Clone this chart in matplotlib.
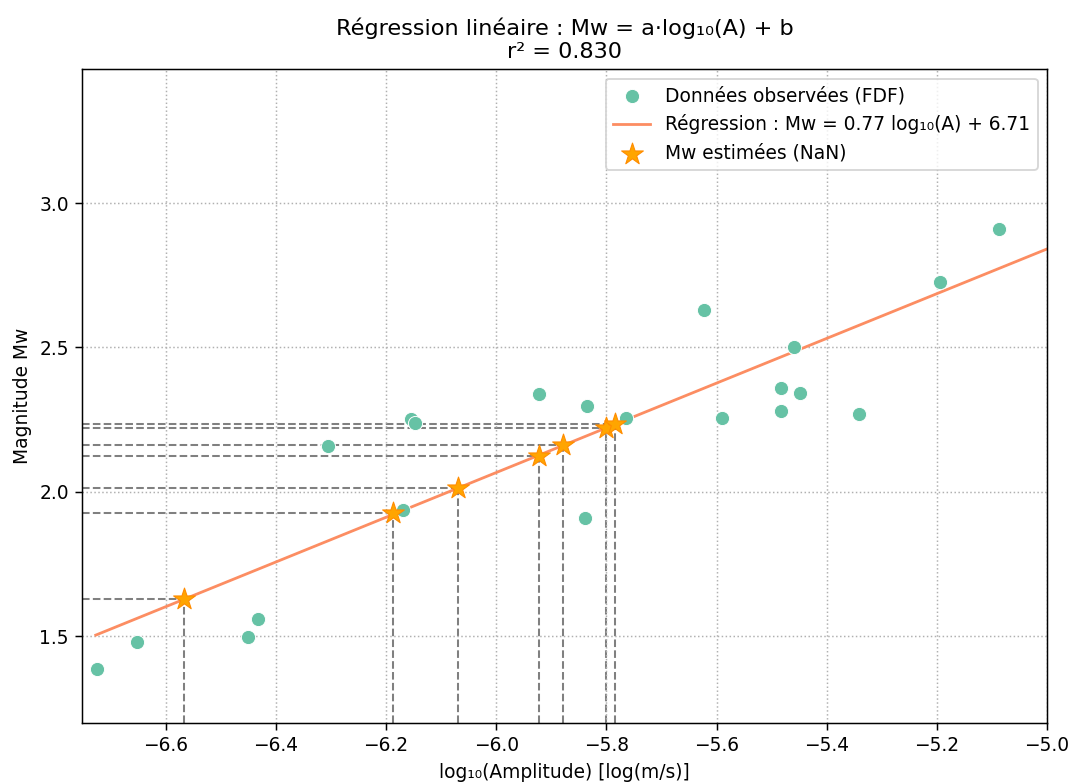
import numpy as np
import matplotlib.pyplot as plt

# données observées (FDF)
log_amp = [-6.725, -6.653, -6.450, -6.432, -6.305, -6.154, -6.147, -6.170,
           -5.922, -5.836, -5.765, -5.839, -5.622, -5.460, -5.195, -5.087,
           -5.590, -5.483, -5.448, -5.483, -5.341]
mw_obs = [1.388, 1.480, 1.499, 1.559, 2.158, 2.254, 2.237, 1.936,
          2.338, 2.299, 2.257, 1.910, 2.629, 2.500, 2.727, 2.909,
          2.256, 2.359, 2.341, 2.279, 2.271]

# coefficients de la régression
a = 0.774
b = 6.711
r2 = 0.830
x_fit = [-6.727, -4.99]

# Mw estimées (NaN)
log_amp_est = [-6.567, -6.187, -6.069, -5.922, -5.879, -5.800, -5.784]
mw_est = [1.630, 1.927, 2.015, 2.125, 2.164, 2.222, 2.236]

xmin, xmax = -6.752, -5.0
ymin, ymax = 1.199, 3.463

dpi = 134
fig, ax = plt.subplots(figsize=(1070 / dpi, 782 / dpi), dpi=dpi)
fig.subplots_adjust(left=82 / 1070, right=1047 / 1070, top=1 - 69.3 / 782, bottom=1 - 723.3 / 782)

ax.scatter(log_amp, mw_obs, s=58, color='#66c2a5', edgecolor='white', linewidth=0.5,
           label='Données observées (FDF)', zorder=3)

xf = np.array(x_fit)
ax.plot(xf, a * xf + b, color='#fc8d62', lw=1.5,
        label=f'Régression : Mw = {a:.2f} log₁₀(A) + {b:.2f}', zorder=2)

# lignes de projection
for xe, ye in zip(log_amp_est, mw_est):
    ax.plot([xmin, xe], [ye, ye], ls='--', color='gray', lw=1.1, zorder=1)
    ax.plot([xe, xe], [ymin, ye], ls='--', color='gray', lw=1.1, zorder=1)

ax.scatter(log_amp_est, mw_est, s=150, marker='*', color='orange', edgecolor='darkorange',
           linewidth=0.6, label='Mw estimées (NaN)', zorder=4)

ax.set_xlim(xmin, xmax)
ax.set_ylim(ymin, ymax)
ax.set_yticks([1.5, 2.0, 2.5, 3.0])
ax.set_xlabel('log₁₀(Amplitude) [log(m/s)]')
ax.set_ylabel('Magnitude Mw')
ax.set_title(f'Régression linéaire : Mw = a·log₁₀(A) + b\nr² = {r2:.3f}', fontsize=12)
ax.grid(True, ls=':', color='#b0b0b0', lw=0.8)
ax.legend(loc='upper right')

plt.savefig('out.png', dpi=dpi)
